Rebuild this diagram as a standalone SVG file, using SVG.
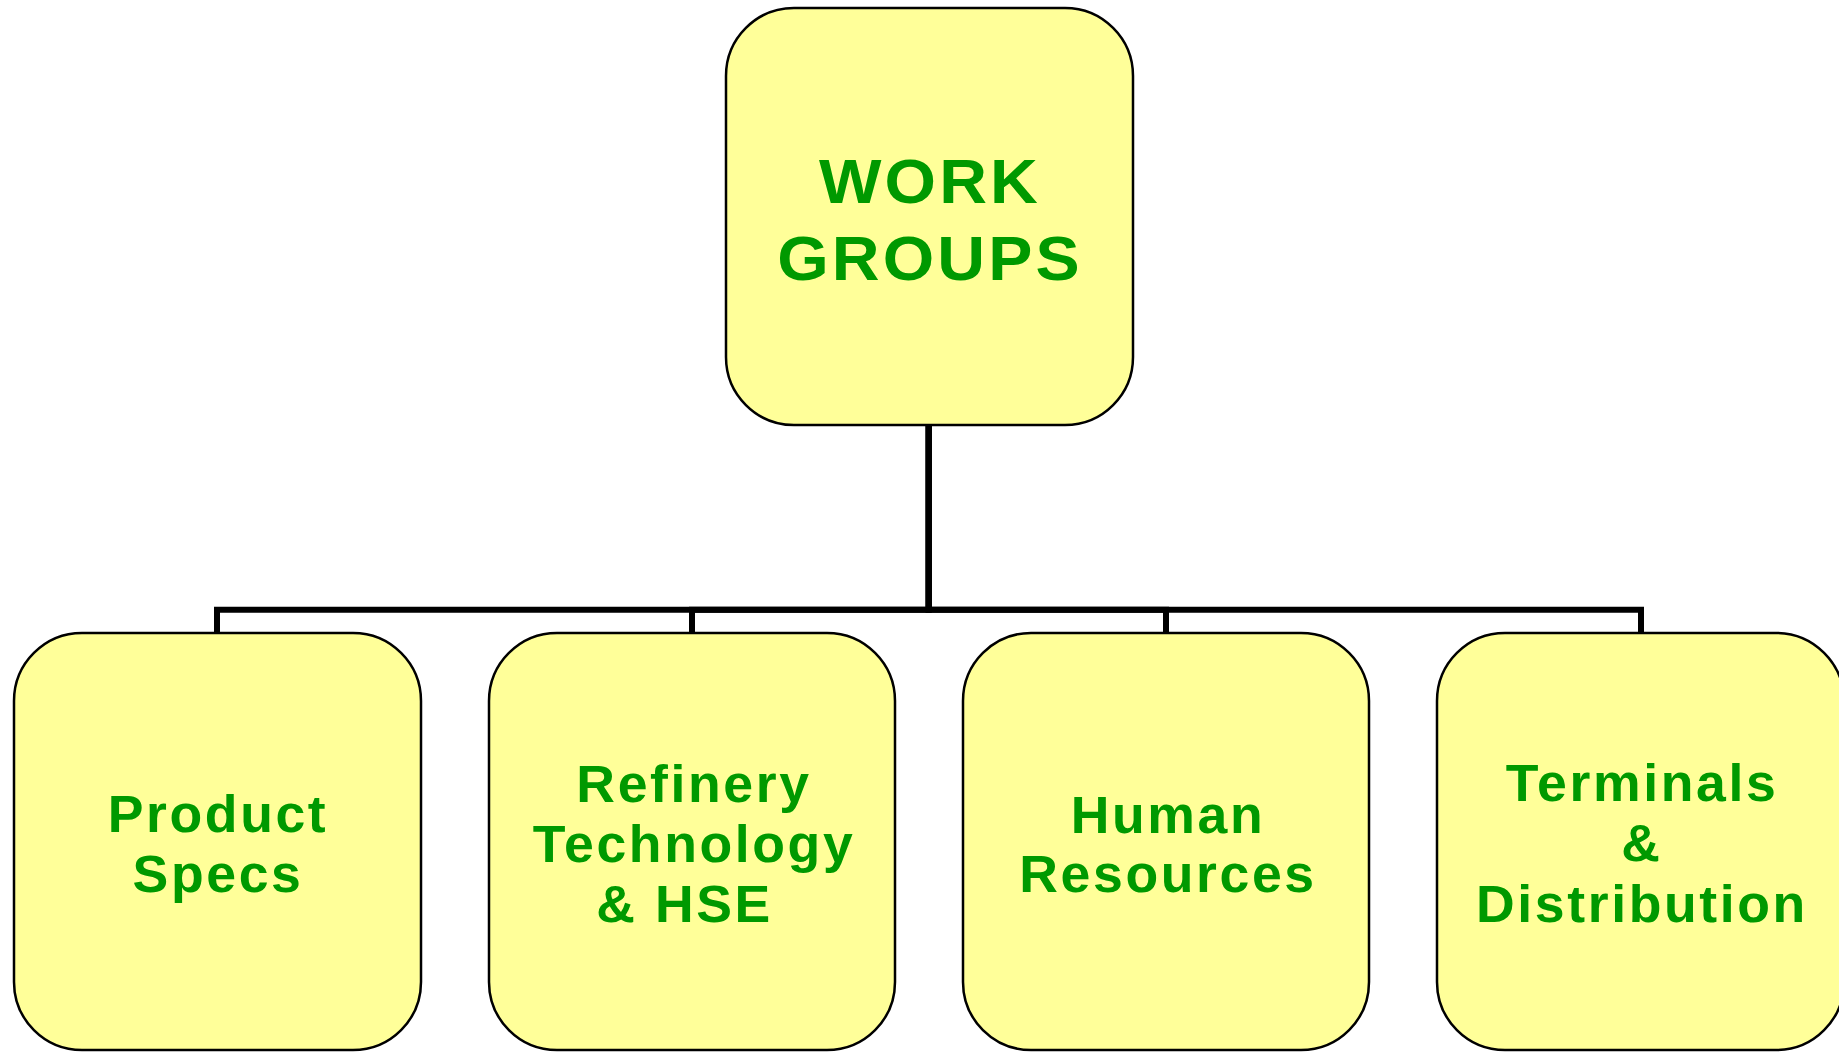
<svg xmlns="http://www.w3.org/2000/svg" width="1839" height="1052" viewBox="0 0 1839 1052">
  <style>
    .box { fill: #FFFF99; stroke: #000000; stroke-width: 2.5; }
    .lbl { font-family: "Liberation Sans", Arial, sans-serif; font-weight: bold; fill: #009900; text-anchor: middle; }
    .top { font-size: 63px; letter-spacing: 3px; }
    .sub { font-size: 51px; letter-spacing: 2.5px; }
    .wire { fill: none; stroke: #000000; stroke-width: 6; stroke-linejoin: miter; }
  </style>
  <rect width="1839" height="1052" fill="#FFFFFF"/>

  <!-- elbow connectors from the head box down to each work group -->
  <g id="connectors">
    <path class="wire" d="M928.7 426 V609.7 H217 V633"/>
    <path class="wire" d="M928.7 426 V609.7 H692 V633"/>
    <path class="wire" d="M928.7 426 V609.7 H1166 V633"/>
    <path class="wire" d="M928.7 426 V609.7 H1641 V633"/>
  </g>

  <!-- labels use a slightly widened, loosely tracked bold sans -->
  <g id="node-work-groups">
    <rect class="box" x="726" y="8" width="407" height="417" rx="68" ry="68"/>
    <g transform="translate(930 0) scale(1.05 1)">
      <text class="lbl top" x="0" y="203">WORK</text>
      <text class="lbl top" x="0" y="280">GROUPS</text>
    </g>
  </g>

  <g id="node-product-specs">
    <rect class="box" x="14" y="633" width="407" height="417" rx="68" ry="68"/>
    <g transform="translate(218 0) scale(1.05 1)">
      <text class="lbl sub" x="0" y="832">Product</text>
      <text class="lbl sub" x="0" y="892">Specs</text>
    </g>
  </g>

  <g id="node-refinery">
    <rect class="box" x="489" y="633" width="406" height="417" rx="68" ry="68"/>
    <g transform="translate(694 0) scale(1.05 1)">
      <text class="lbl sub" x="0" y="802">Refinery</text>
      <text class="lbl sub" x="0" y="862">Technology</text>
      <text class="lbl sub" x="-9" y="922">&amp; HSE</text>
    </g>
  </g>

  <g id="node-human-resources">
    <rect class="box" x="963" y="633" width="406" height="417" rx="68" ry="68"/>
    <g transform="translate(1168 0) scale(1.05 1)">
      <text class="lbl sub" x="0" y="833">Human</text>
      <text class="lbl sub" x="0" y="892">Resources</text>
    </g>
  </g>

  <g id="node-terminals">
    <rect class="box" x="1437" y="633" width="407" height="417" rx="68" ry="68"/>
    <g transform="translate(1642 0) scale(1.05 1)">
      <text class="lbl sub" x="0" y="801">Terminals</text>
      <text class="lbl sub" x="0" y="861">&amp;</text>
      <text class="lbl sub" x="0" y="922">Distribution</text>
    </g>
  </g>
</svg>
